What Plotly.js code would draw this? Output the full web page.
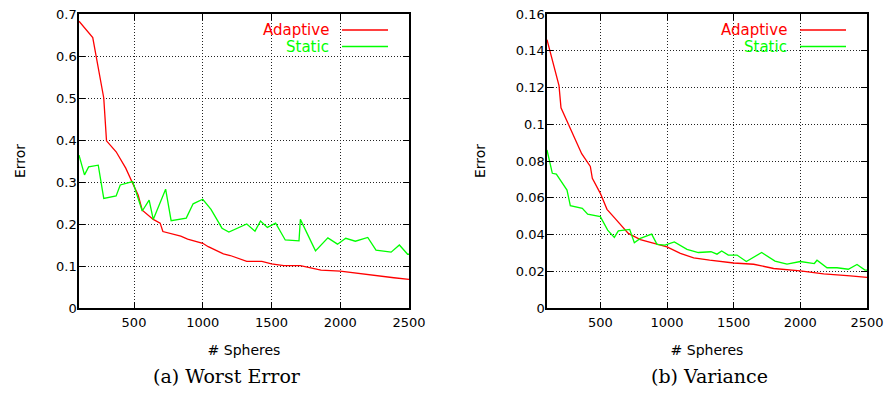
<!DOCTYPE html>
<html>
<head>
<meta charset="utf-8">
<script src="https://cdn.plot.ly/plotly-3.0.1.min.js"></script>
<style>html,body{margin:0;padding:0;background:#fff;}#chart{width:888px;height:394px;}</style>
</head>
<body>
<div id="chart"></div>
<script>
// ---- Data: (a) Worst Error ----
const worstAdaptiveX = [100,200,280,300,370,440,490,530,560,640,690,710,840,890,1000,1040,1150,1200,1320,1430,1500,1590,1710,1860,2000,2120,2190,2320,2390,2500];
const worstAdaptiveY = [0.683,0.644,0.500,0.398,0.372,0.333,0.297,0.269,0.233,0.211,0.202,0.182,0.171,0.164,0.154,0.146,0.129,0.125,0.111,0.111,0.105,0.101,0.101,0.090,0.088,0.083,0.079,0.075,0.072,0.068];
const worstStaticX = [100,140,170,240,280,370,400,490,560,610,640,730,770,880,930,1000,1060,1140,1190,1320,1380,1420,1470,1530,1600,1700,1710,1820,1910,1980,2040,2110,2200,2260,2370,2430,2490,2500];
const worstStaticY = [0.364,0.317,0.336,0.340,0.261,0.267,0.293,0.301,0.231,0.257,0.211,0.283,0.208,0.214,0.248,0.259,0.235,0.190,0.181,0.200,0.183,0.207,0.192,0.202,0.162,0.160,0.211,0.136,0.167,0.152,0.166,0.159,0.168,0.138,0.133,0.150,0.128,0.128];

// ---- Data: (b) Variance ----
const varAdaptiveX = [100,190,205,260,300,360,425,440,500,550,610,710,800,910,1000,1100,1200,1320,1500,1650,1750,1800,2000,2175,2375,2500];
const varAdaptiveY = [0.146,0.121,0.109,0.100,0.093,0.084,0.077,0.0706,0.0624,0.0537,0.0488,0.0406,0.0372,0.0351,0.0333,0.0297,0.0273,0.0260,0.0245,0.0238,0.0224,0.0215,0.0202,0.0186,0.0175,0.0167];
const varStaticX = [100,140,170,250,275,365,405,500,555,605,635,720,755,800,885,925,985,1055,1150,1235,1330,1375,1410,1460,1525,1595,1710,1810,1900,2000,2105,2125,2200,2275,2360,2425,2485,2500];
const varStaticY = [0.086,0.0733,0.0729,0.0642,0.0557,0.0542,0.0511,0.0497,0.0424,0.0384,0.0420,0.0428,0.0355,0.0379,0.0402,0.0346,0.0342,0.0360,0.0319,0.0302,0.0306,0.0293,0.0310,0.0288,0.0288,0.0253,0.0302,0.0255,0.0239,0.0253,0.0242,0.0260,0.0219,0.0219,0.0211,0.0237,0.0206,0.0206];

// ---- Tick labels ----
const xTickVals = [500,1000,1500,2000,2500];
const xTickText = ['500','1000','1500','2000','2500'];
const yTickValsA = [0,0.1,0.2,0.3,0.4,0.5,0.6,0.7];
const yTickTextA = ['0','0.1','0.2','0.3','0.4','0.5','0.6','0.7'];
const yTickValsB = [0,0.02,0.04,0.06,0.08,0.1,0.12,0.14,0.16];
const yTickTextB = ['0','0.02','0.04','0.06','0.08','0.1','0.12','0.14','0.16'];

const seriesNames = ['Adaptive','Static'];
const seriesColors = ['#ff0000','#00ff00'];
const captions = ['(a) Worst Error','(b) Variance'];

const W = 888, H = 394;
const px = v => v / W, py = v => (H - v) / H;
const font = 'DejaVu Sans, Liberation Sans, sans-serif';

const traces = [
  {x: worstAdaptiveX, y: worstAdaptiveY, xaxis:'x', yaxis:'y', name: seriesNames[0]},
  {x: worstStaticX, y: worstStaticY, xaxis:'x', yaxis:'y', name: seriesNames[1]},
  {x: varAdaptiveX, y: varAdaptiveY, xaxis:'x2', yaxis:'y2', name: seriesNames[0]},
  {x: varStaticX, y: varStaticY, xaxis:'x2', yaxis:'y2', name: seriesNames[1]}
].map((t,i) => Object.assign(t, {type:'scatter', mode:'lines', showlegend:false,
  line:{color: seriesColors[i%2], width:1.3}}));

const common = {ticks:'inside', ticklen:6, tickcolor:'#000', mirror:'ticks', showline:true, linecolor:'#000', linewidth:1.7,
    showgrid:true, griddash:'1px,2px', gridcolor:'#222', gridwidth:1, zeroline:false,
    tickfont:{family:font, size:13, color:'#000'}};

function xAxis(domain, anchor){
  return Object.assign({domain, anchor, range:[100,2500], tickvals:xTickVals, ticktext:xTickText, ticklabelstandoff:2,
    title:{text:'# Spheres', font:{family:font, size:14, color:'#000'}, standoff:16}}, common);
}
function yAxis(domain, anchor, vals, text, range){
  return Object.assign({domain, anchor, range, tickvals:vals, ticktext:text, ticklabelstandoff:-2,
    title:{text:'Error', font:{family:font, size:14, color:'#000'}, standoff:27}}, common);
}

const yDom = [py(308), py(14)];
const plots = [{l:79, r:409, cap:227}, {l:547, r:867, cap:709}];

const annotations = [], shapes = [];
plots.forEach((p, k) => {
  [0,1].forEach(i => {
    const yy = 30 + i*16.5;
    annotations.push({xref:'paper', yref:'paper', x:px(p.r-78), y:py(yy), xanchor:'right', yanchor:'middle',
      text:seriesNames[i], showarrow:false, font:{family:font, size:15, color:seriesColors[i]}});
    shapes.push({type:'line', xref:'paper', yref:'paper', x0:px(p.r-67), x1:px(p.r-21), y0:py(yy), y1:py(yy),
      line:{color:seriesColors[i], width:1.3}});
  });
  annotations.push({xref:'paper', yref:'paper', x:px(p.cap), y:py(376), xanchor:'center', yanchor:'middle',
    text:captions[k], showarrow:false, font:{family:'DejaVu Serif, Liberation Serif, serif', size:19, color:'#000'}});
});

const layout = {
  width:W, height:H, margin:{l:0,r:0,t:0,b:0}, paper_bgcolor:'#fff', plot_bgcolor:'#fff',
  showlegend:false,
  xaxis: xAxis([px(79), px(409)], 'y'),
  yaxis: yAxis(yDom, 'x', yTickValsA, yTickTextA, [0,0.7]),
  xaxis2: xAxis([px(547), px(867)], 'y2'),
  yaxis2: yAxis(yDom, 'x2', yTickValsB, yTickTextB, [0,0.16]),
  annotations, shapes
};
Plotly.newPlot('chart', traces, layout, {staticPlot:true, displayModeBar:false});
</script>
</body>
</html>
